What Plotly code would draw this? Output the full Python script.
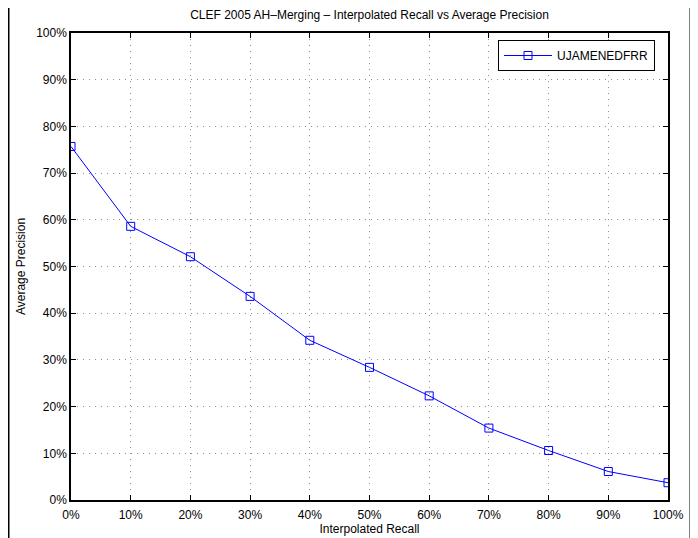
import plotly.graph_objects as go

# interpolated recall points (%) and average precision (%)
recall = [0, 10, 20, 30, 40, 50, 60, 70, 80, 90, 100]
precision = [75.7, 58.6, 52.1, 43.6, 34.2, 28.4, 22.3, 15.4, 10.6, 6.1, 3.7]
run_name = "UJAMENEDFRR"
tick_vals = [0, 10, 20, 30, 40, 50, 60, 70, 80, 90, 100]
tick_text = [f"{v}%" for v in tick_vals]

# the page body has an 8px margin, so the figure is drawn 8px in from the window
OFF = 8
W, H = 698 - OFF, 538 - OFF
L, R, T, B = 71 - OFF, 30, 33 - OFF, 38
PW, PH = W - L - R, H - T - B


def px(x):
    # window pixel x -> paper x
    return (x - OFF - L) / PW


def py(y):
    # window pixel y -> paper y
    return (H - B - (y - OFF)) / PH


font = dict(family="Liberation Sans, Arial, sans-serif", size=12, color="black")

fig = go.Figure()
fig.add_trace(go.Scatter(
    x=recall, y=precision, mode="lines+markers", name=run_name,
    line=dict(color="#0000ff", width=1),
    marker=dict(symbol="square-open", size=8, color="#0000ff",
                line=dict(width=1, color="#0000ff")),
))

axis_common = dict(
    tickvals=tick_vals, ticktext=tick_text,
    ticks="inside", ticklen=5, tickcolor="black",
    showline=True, linecolor="black", linewidth=1.5, mirror="ticks",
    showgrid=True, gridcolor="#909090", griddash="1px,5px", gridwidth=1,
    zeroline=False, tickfont=font, automargin=False,
)

# outer frame of the screenshot
shapes = [
    dict(type="line", xref="paper", yref="paper", x0=px(8.75), x1=px(8.75), y0=py(0), y1=py(540),
         line=dict(color="black", width=1.5)),
    dict(type="line", xref="paper", yref="paper", x0=px(689.5), x1=px(689.5), y0=py(8), y1=py(540),
         line=dict(color="#808080", width=1)),
    dict(type="line", xref="paper", yref="paper", x0=px(696.5), x1=px(696.5), y0=py(0), y1=py(540),
         line=dict(color="black", width=2)),
]

fig.update_layout(
    width=W, height=H,
    margin=dict(l=L, r=R, t=T, b=B, autoexpand=False),
    paper_bgcolor="white", plot_bgcolor="white",
    font=font,
    title=dict(text="CLEF 2005 AH\u2013Merging \u2013 Interpolated Recall vs Average Precision",
               x=0.5, xref="paper", xanchor="center",
               y=1 - (15 - OFF) / H, yref="container", yanchor="middle", font=font),
    xaxis=dict(range=[0, 100], title=dict(text="Interpolated Recall", font=font, standoff=0),
               ticklabelstandoff=3, **axis_common),
    yaxis=dict(range=[0, 100], title=dict(text="Average Precision", font=font, standoff=8),
               **axis_common),
    legend=dict(x=px(655), xanchor="right", y=py(40), yanchor="top",
                bordercolor="black", borderwidth=1, bgcolor="white", font=font,
                itemwidth=48),
    showlegend=True,
    shapes=shapes,
)

fig.write_html("out.html")
